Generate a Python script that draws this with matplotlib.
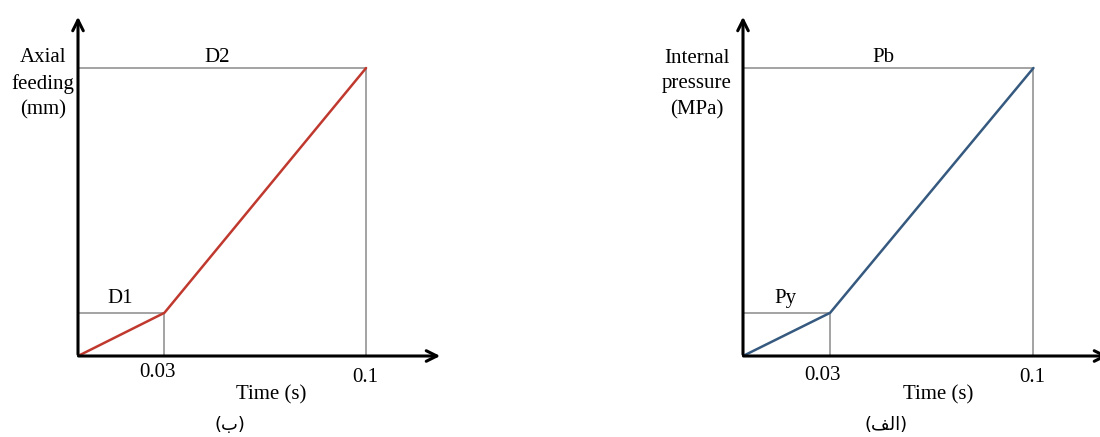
import matplotlib.pyplot as plt

# Perfis de carregamento (valores relativos ao maximo)
tempo = [0, 0.03, 0.1]
avanco_axial = [0, 0.15, 1.0]
pressao_interna = [0, 0.15, 1.0]

marcas_x = [0.03, 0.1]
rotulos_x = ['0.03', '0.1']

serif = 'Liberation Serif'
fig = plt.figure(figsize=(11, 4.37), dpi=100)


def painel(pos, y, cor, rot_y, rot_baixo, rot_topo, legenda, xlab_y):
    ax = fig.add_axes(pos)
    ax.set_xlim(0, 0.1267)
    ax.set_ylim(0, 1.1875)
    ax.axis('off')

    # linhas de referencia em cinza
    ax.plot([0, tempo[1], tempo[1]], [y[1], y[1], 0], color='#8a8a8a', lw=1.1)
    ax.plot([0, tempo[2], tempo[2]], [y[2], y[2], 0], color='#8a8a8a', lw=1.1)

    # curva
    ax.plot(tempo, y, color=cor, lw=1.8, solid_capstyle='round')

    # eixos com setas
    seta = dict(arrowstyle='->', lw=2.2, color='black', mutation_scale=19)
    ax.annotate('', xy=(0, 1.1875), xytext=(0, -0.004), arrowprops=seta,
                annotation_clip=False)
    ax.annotate('', xy=(0.1267, 0), xytext=(-0.0008, 0), arrowprops=seta,
                annotation_clip=False)

    ax.text(0.0146, 0.198, rot_baixo, family=serif, fontsize=15,
            ha='center', va='center')
    ax.text(0.0484, 1.035, rot_topo, family=serif, fontsize=15,
            ha='center', va='center')
    for xv, lab, dy in zip(marcas_x, rotulos_x, xlab_y):
        ax.text(xv - 0.0003 if lab == '0.1' else xv - 0.0025, dy, lab,
                family=serif, fontsize=15, ha='center', va='center',
                clip_on=False)
    ax.text(0.0672, -0.135, 'Time (s)', family=serif, fontsize=15,
            ha='center', va='center', clip_on=False)
    ax.text(rot_y[0], 0.944, rot_y[1], family=serif, fontsize=15,
            ha='center', va='center', linespacing=1.45, clip_on=False)
    ax.text(legenda[0], -0.24, legenda[1], family='DejaVu Sans',
            fontsize=13, ha='center', va='center', clip_on=False)
    return ax


painel([78 / 1100, 81 / 437, 365 / 1100, 342 / 437], avanco_axial, '#c0392f',
       (-0.0122, 'Axial\nfeeding\n(mm)'), 'D1', 'D2',
       (0.0528, '(\uFE8F)'), (-0.059, -0.073))

painel([743 / 1100, 81 / 437, 368 / 1100, 342 / 437], pressao_interna, '#35597f',
       (-0.0159, 'Internal\npressure\n(MPa)'), 'Py', 'Pb',
       (0.0491, '(\uFED2\uFEDF\uFE8D)'), (-0.069, -0.073))

plt.savefig('out.png', dpi=100)
